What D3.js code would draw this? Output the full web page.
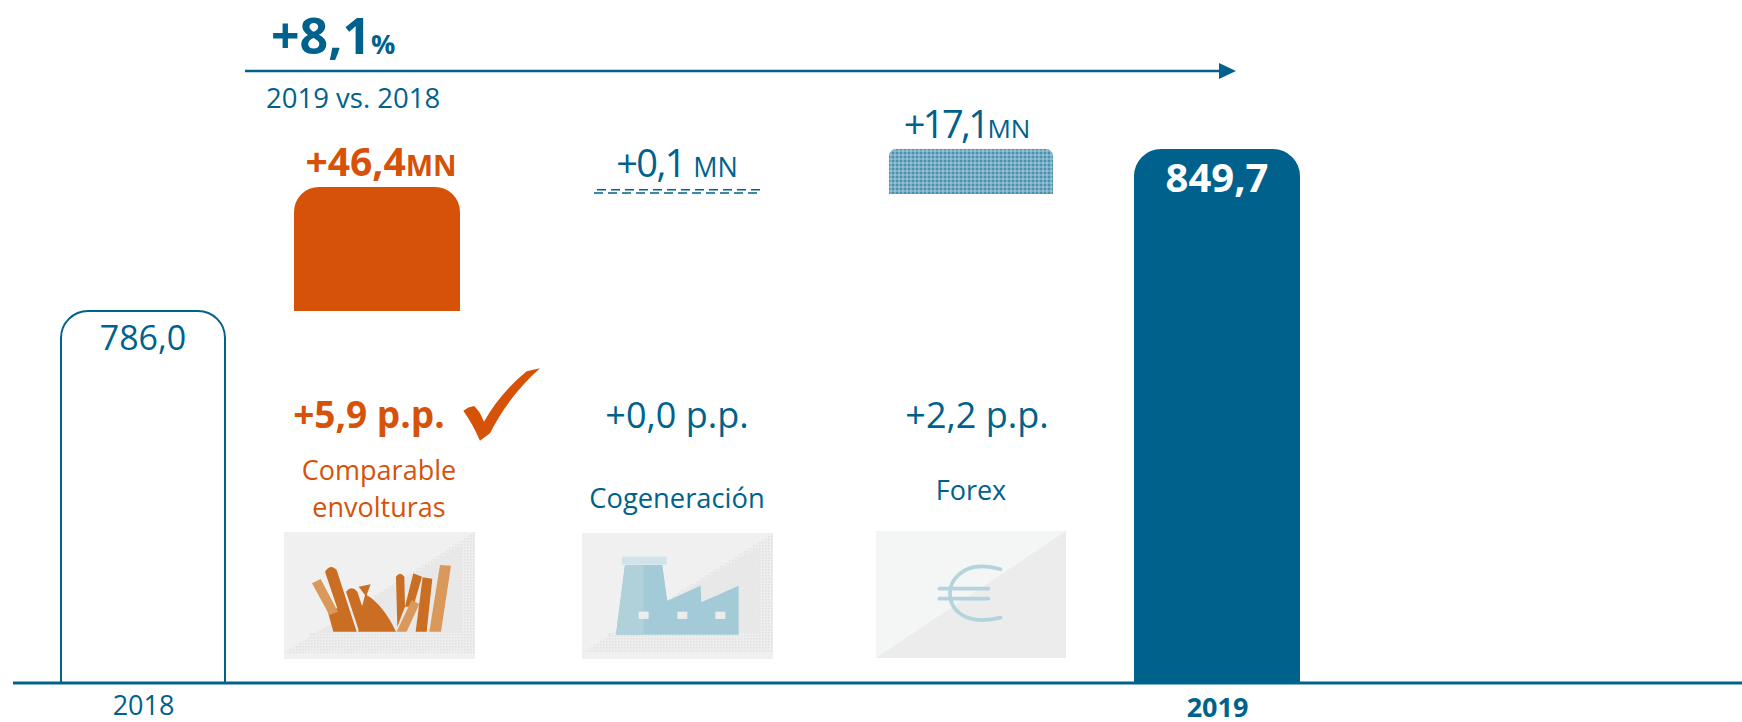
<!DOCTYPE html>
<html><head><meta charset="utf-8">
<script src="https://cdnjs.cloudflare.com/ajax/libs/d3/7.8.5/d3.min.js"></script>
<style>html,body{margin:0;background:#fff}svg{display:block}text{font-family:"Open Sans","Noto Sans",sans-serif}</style>
</head><body><div id="c"></div>
<script>
// Data
const categories = ["2018","Comparable envolturas","Cogeneración","Forex","2019"];
const barLow  = [639.7, 786.0, 832.9, 832.0, 639.7]; // bar base, as drawn (truncated baseline)
const barHigh = [786.0, 834.8, 833.3, 849.7, 849.7]; // bar top, as drawn
const valueLabels = ["786,0","+46,4","+0,1 ","+17,1","849,7"];
const ppLabels = ["+5,9 p.p.","+0,0 p.p.","+2,2 p.p."];
const tickLabels = ["2018","2019"];

const NAVY="#00628c", ORANGE="#d65208";
const W=1742,H=722;
const svg=d3.select("#c").append("svg").attr("width",W).attr("height",H);
const defs=svg.append("defs");

// Scales
const xLeft=d3.scaleOrdinal().domain(categories).range([60,294,594,889,1134]);
const xWidth=d3.scaleOrdinal().domain(categories).range([166,166,166,164,166]);
const xC=d=>xLeft(d)+xWidth(d)/2;
const y=d3.scaleLinear().domain([639.7,849.7]).range([683,149]);

// Patterns
const dots=defs.append("pattern").attr("id","dots").attr("width",4).attr("height",4).attr("patternUnits","userSpaceOnUse");
dots.append("rect").attr("width",4).attr("height",4).attr("fill","#78aec5");
dots.append("rect").attr("width",2).attr("height",2).attr("fill","#4a8fae");
dots.append("rect").attr("x",2).attr("y",2).attr("width",2).attr("height",2).attr("fill","#94bfd2");
const grey=defs.append("pattern").attr("id","greyDots").attr("width",3).attr("height",3).attr("patternUnits","userSpaceOnUse");
grey.append("rect").attr("width",3).attr("height",3).attr("fill","#eeeeee");
grey.append("rect").attr("width",1.5).attr("height",1.5).attr("fill","#e0e0e0");
const st=defs.append("pattern").attr("id","stripes").attr("width",3).attr("height",3).attr("patternUnits","userSpaceOnUse");
st.append("rect").attr("width",3).attr("height",3).attr("fill","#e0a064");
st.append("rect").attr("width",3).attr("height",1).attr("fill","#d08a48");

const topRounded=(x0,x1,y0,y1,r)=>{const p=d3.path();p.moveTo(x0,y1);p.lineTo(x0,y0+r);if(r)p.arcTo(x0,y0,x0+r,y0,r);p.lineTo(x1-r,y0);if(r)p.arcTo(x1,y0,x1,y0+r,r);p.lineTo(x1,y1);p.closePath();return p.toString();};

// Bars
const radius=[27,25,0,7,27];
const fills=["#fff",ORANGE,"none","url(#dots)",NAVY];
const strokes=[NAVY,"none","none","none","none"];
svg.append("g").selectAll("path").data(categories.filter((d,i)=>i!==2)).join("path")
 .attr("d",d=>{const i=categories.indexOf(d);return topRounded(xLeft(d)+(i===0?1:0),xLeft(d)+xWidth(d)-(i===0?1:0),y(barHigh[i]),y(barLow[i]),radius[i]);})
 .attr("fill",d=>fills[categories.indexOf(d)])
 .attr("stroke",d=>strokes[categories.indexOf(d)])
 .attr("stroke-width",2);

// Cogeneración: hairline bar drawn as two dashed rows
const cg=categories[2];
[0,1].forEach(k=>{
 svg.append("line").attr("x1",xLeft(cg)).attr("x2",xLeft(cg)+xWidth(cg))
  .attr("y1",y(barHigh[2])+k*3.4-1).attr("y2",y(barHigh[2])+k*3.4-1)
  .attr("stroke",NAVY).attr("stroke-width",1.5)
  .attr("stroke-dasharray","9 5").attr("stroke-dashoffset",k?0:-3);
});

// Axis
svg.append("line").attr("x1",13).attr("x2",W).attr("y1",683).attr("y2",683).attr("stroke",NAVY).attr("stroke-width",3);
const axis=svg.append("g").attr("transform","translate(0,683)")
 .call(d3.axisBottom(d3.scaleOrdinal().domain(tickLabels).range([143,1217])).tickSize(0).tickPadding(0));
axis.select(".domain").remove();
axis.selectAll("text").attr("font-size",27).attr("fill",NAVY)
 .attr("font-weight",d=>d==="2019"?700:400).attr("dy",null).attr("y",d=>d==="2019"?34:32);

const txt=(x,yy,s,size,fill,weight,anchor)=>svg.append("text").attr("x",x).attr("y",yy).text(s)
 .attr("font-size",size).attr("fill",fill).attr("font-weight",weight||400).attr("text-anchor",anchor||"middle");

// Headline
const head=svg.append("text").attr("x",271).attr("y",54).attr("fill",NAVY).attr("font-weight",700);
head.append("tspan").attr("font-size",50).text("+8,1");
head.append("tspan").attr("font-size",27).text("%");
svg.append("line").attr("x1",245).attr("x2",1222).attr("y1",71).attr("y2",71).attr("stroke",NAVY).attr("stroke-width",2.4);
svg.append("path").attr("d",d3.line()([[1219,63],[1236,71],[1219,79]])+"Z").attr("fill",NAVY);
txt(266,108,"2019 vs. 2018",27.5,NAVY,400,"start");

// Value labels
txt(xC(categories[0]),350,valueLabels[0],34,NAVY);
txt(xC(categories[4]),192,valueLabels[4],40,"#fff",700);
const lab=(cx,yy,i,fill,w,sz,ls,mn)=>{const t=svg.append("text").attr("x",cx).attr("y",yy).attr("fill",fill).attr("font-weight",w).attr("text-anchor","middle");
 t.append("tspan").attr("font-size",sz).attr("letter-spacing",ls).text(valueLabels[i]);t.append("tspan").attr("font-size",mn).text("MN");};
lab(381,176,1,ORANGE,700,39,0,29);
lab(677,177,2,NAVY,400,38,-1.6,27);
lab(967,138,3,NAVY,400,38,-2.6,26);

// Contribution labels
txt(369,428,ppLabels[0],37,ORANGE,700);
txt(677,428,ppLabels[1],36,NAVY);
txt(977,428,ppLabels[2],36,NAVY);
txt(379,480,"Comparable",27,ORANGE);
txt(379,517,"envolturas",27,ORANGE);
txt(677,508,categories[2],27.3,NAVY);
txt(971,500,categories[3],27,NAVY);

// Check mark (zoom coordinates, /3)
const z1=svg.append("g").attr("transform","translate(270,350) scale(0.3333)");
z1.append("path").attr("fill",ORANGE).attr("d","M810,55 L770,64 Q690,130 642,215 Q628,180 612,168 Q595,170 580,182 Q610,225 630,272 L660,250 Q715,140 810,55Z");

// Icon tiles
function tile(x,yy,w,h,diagBottom,tex){
 const g=svg.append("g").attr("transform",`translate(${x},${yy})`);
 g.append("rect").attr("width",w).attr("height",h).attr("fill",tex?"#f0f0f0":"#f4f5f5");
 g.append("path").attr("d",d3.line()([[0,diagBottom],[w,0],[w,tex?h-6:h],[0,tex?h-6:h]])+"Z").attr("fill",tex?"url(#greyDots)":"#ececec");
 if(tex) g.append("path").attr("d",d3.line()([[26,diagBottom-16],[w-14,14],[w-14,h-26],[26,h-26]])+"Z").attr("fill","#e8e8e8");
 return g;
}
tile(284,532,191,127,121,true);
tile(582,533,191,126,120,true);
tile(876,531,190,127,127,false);

// Packaging icon
const ic=svg.append("g").attr("transform","translate(270,350) scale(0.3333)");
ic.append("path").attr("fill","#c96e22").attr("d","M165,665 Q182,640 200,660 L260,845 L190,845 L172,780 L202,775 Z");
ic.append("path").attr("fill","#c96e22").attr("d","M228,725 Q245,705 262,725 L277,770 L268,845 Z");
ic.append("path").attr("fill","#c96e22").attr("d","M266,710 L302,703 L290,735 Q340,765 378,845 L265,845 L275,775 L285,735 Z");
ic.append("path").attr("fill","url(#stripes)").attr("d","M126,700 L152,687 L204,785 L178,795 Z");
ic.append("path").attr("fill","#c96e22").attr("d","M378,680 Q390,662 403,680 L405,770 L382,830 Z");
ic.append("path").attr("fill","#c96e22").attr("d","M405,770 L430,670 L456,680 L430,770 Z");
ic.append("path").attr("fill","#c96e22").attr("d","M458,682 L487,686 L470,845 L437,845 Z");
ic.append("path").attr("fill","url(#stripes)").attr("d","M510,645 L543,647 L513,845 L478,845 Z");
ic.append("path").attr("fill","url(#stripes)").attr("d","M425,750 L448,762 L410,845 L380,845 Z");

// Factory icon
const f=svg.append("g").attr("transform","translate(570,510) scale(0.3333)");
f.append("path").attr("fill","#a2cad7").attr("d","M165,165 L277,165 L292,272 L392,227 L394,277 L506,227 L506,374 L138,374Z");
f.append("path").attr("fill","#b0d0da").attr("d","M165,165 L221,165 L221,374 L138,374Z");
f.append("rect").attr("x",156).attr("y",140).attr("width",134).attr("height",24).attr("fill","#cfe3ea");
[206,322,436].forEach(x=>f.append("rect").attr("x",x).attr("y",305).attr("width",30).attr("height",22).attr("fill","#ebecec"));

// Euro icon
const e=svg.append("g").attr("transform","translate(570,510) scale(0.3333)").attr("fill","none").attr("stroke","#b3d3dd").attr("stroke-width",11).attr("stroke-linecap","round");
e.append("path").attr("d","M1292,178 Q1230,160 1190,178 Q1140,205 1140,250 Q1140,300 1190,322 Q1230,338 1292,323");
e.append("path").attr("d","M1108,236 H1255 M1108,266 H1255");
</script></body></html>
